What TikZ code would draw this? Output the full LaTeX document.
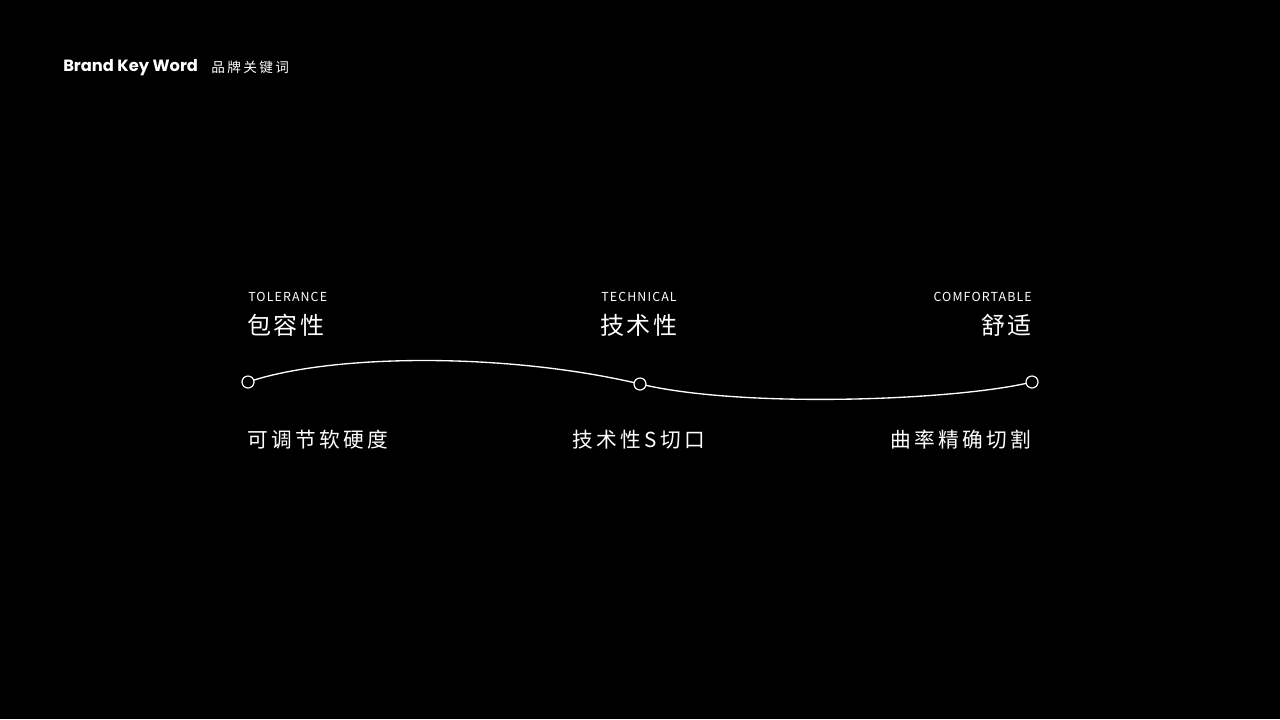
\documentclass[tikz,border=0pt]{standalone}
\usepackage{fontspec}
\newfontfamily\cjk{Noto Sans CJK SC}
\newfontfamily\cjkwide{Noto Sans CJK SC}[LetterSpace=11]
\newfontfamily\cjkmid{Noto Sans CJK SC}[LetterSpace=16]
\newfontfamily\latsp{Noto Sans CJK SC}[LetterSpace=9]
\newfontfamily\cjkhead{Noto Sans CJK SC}[LetterSpace=18]
\newfontfamily\brand{Poppins}
\begin{document}
\begin{tikzpicture}[x=0.75pt,y=-0.75pt,
  txt/.style={text=white,inner sep=0pt},
  en/.style={txt,font=\latsp\fontsize{9.3}{11}\selectfont},
  zh/.style={txt,font=\cjkwide\fontsize{18}{22}\selectfont},
  sub/.style={txt,font=\cjkmid\fontsize{15.5}{18}\selectfont},
  dot/.style={circle,draw=white,fill=black,line width=0.9pt,minimum size=9pt,inner sep=0pt},
  wave/.style={draw=white,line width=1pt}]
\fill[black] (0,0) rectangle (1280,719);
\useasboundingbox (0,0) rectangle (1280,719);
% header
\node[txt,anchor=west,font=\brand\bfseries\fontsize{12.2}{14}\selectfont] (brand) at (63,67.5) {Brand Key Word};
\node[txt,anchor=west,font=\cjkhead\fontsize{10.2}{12}\selectfont] (brandzh) at (211,67.5) {品牌关键词};
% wave
\coordinate (p1) at (248,382);
\coordinate (p2) at (640,384);
\coordinate (p3) at (1032,382);
\draw[wave] (p1) .. controls (330,354) and (505,352) .. (p2)
                 .. controls (745,409) and (960,400) .. (p3);
\node[dot] (d1) at (p1) {};
\node[dot] (d2) at (p2) {};
\node[dot] (d3) at (p3) {};
% labels
\node[en,anchor=west] (t1) at (248,297) {TOLERANCE};
\node[en] (t2) at (639,297) {TECHNICAL};
\node[en,anchor=east] (t3) at (1032,297) {COMFORTABLE};
\node[zh,anchor=west] (z1) at (247,325) {包容性};
\node[zh] (z2) at (639,325) {技术性};
\node[zh,anchor=east] (z3) at (1032,325) {舒适};
\node[sub,anchor=west] (s1) at (247,440) {可调节软硬度};
\node[sub] (s2) at (639,440) {技术性S切口};
\node[sub,anchor=east] (s3) at (1031,440) {曲率精确切割};
\end{tikzpicture}
\end{document}
